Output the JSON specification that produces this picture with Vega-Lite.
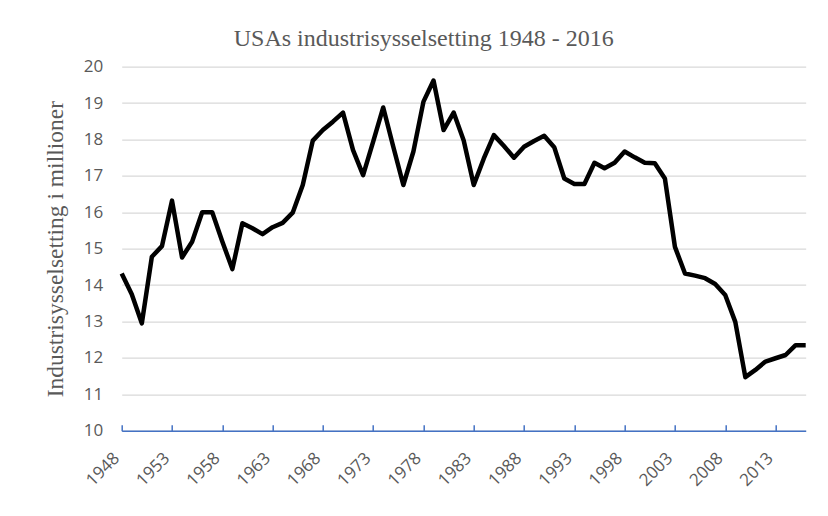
{
  "$schema": "https://vega.github.io/schema/vega-lite/v6.json",
  "autosize": {"type": "none"},
  "width": 684,
  "height": 364,
  "padding": {"left": 121.7, "top": 66.7, "right": 22.3, "bottom": 85.3},
  "background": "white",
  "title": {
    "text": "USAs industrisysselsetting 1948 - 2016",
    "font": "Liberation Serif",
    "fontSize": 24,
    "fontWeight": "normal",
    "color": "#595959",
    "anchor": "middle",
    "frame": "group",
    "dx": -40,
    "offset": 7
  },
  "data": {
    "values": [
      {"year": 1948, "value": 14.32}, {"year": 1949, "value": 13.75}, {"year": 1950, "value": 12.95},
      {"year": 1951, "value": 14.78}, {"year": 1952, "value": 15.07}, {"year": 1953, "value": 16.32},
      {"year": 1954, "value": 14.76}, {"year": 1955, "value": 15.19}, {"year": 1956, "value": 16.0},
      {"year": 1957, "value": 16.0}, {"year": 1958, "value": 15.2}, {"year": 1959, "value": 14.44},
      {"year": 1960, "value": 15.7}, {"year": 1961, "value": 15.56}, {"year": 1962, "value": 15.4},
      {"year": 1963, "value": 15.59}, {"year": 1964, "value": 15.71}, {"year": 1965, "value": 15.99},
      {"year": 1966, "value": 16.75}, {"year": 1967, "value": 17.97}, {"year": 1968, "value": 18.26},
      {"year": 1969, "value": 18.49}, {"year": 1970, "value": 18.74}, {"year": 1971, "value": 17.71},
      {"year": 1972, "value": 17.02}, {"year": 1973, "value": 17.94}, {"year": 1974, "value": 18.88},
      {"year": 1975, "value": 17.8}, {"year": 1976, "value": 16.75}, {"year": 1977, "value": 17.67},
      {"year": 1978, "value": 19.04}, {"year": 1979, "value": 19.62}, {"year": 1980, "value": 18.26},
      {"year": 1981, "value": 18.74}, {"year": 1982, "value": 17.97}, {"year": 1983, "value": 16.75},
      {"year": 1984, "value": 17.48}, {"year": 1985, "value": 18.12}, {"year": 1986, "value": 17.82},
      {"year": 1987, "value": 17.5}, {"year": 1988, "value": 17.8}, {"year": 1989, "value": 17.96},
      {"year": 1990, "value": 18.1}, {"year": 1991, "value": 17.79}, {"year": 1992, "value": 16.93},
      {"year": 1993, "value": 16.78}, {"year": 1994, "value": 16.78}, {"year": 1995, "value": 17.36},
      {"year": 1996, "value": 17.21}, {"year": 1997, "value": 17.36}, {"year": 1998, "value": 17.67},
      {"year": 1999, "value": 17.51}, {"year": 2000, "value": 17.36}, {"year": 2001, "value": 17.35},
      {"year": 2002, "value": 16.93}, {"year": 2003, "value": 15.05}, {"year": 2004, "value": 14.32},
      {"year": 2005, "value": 14.26}, {"year": 2006, "value": 14.19}, {"year": 2007, "value": 14.03},
      {"year": 2008, "value": 13.73}, {"year": 2009, "value": 12.99}, {"year": 2010, "value": 11.47},
      {"year": 2011, "value": 11.67}, {"year": 2012, "value": 11.9}, {"year": 2013, "value": 11.99},
      {"year": 2014, "value": 12.08}, {"year": 2015, "value": 12.35}, {"year": 2016, "value": 12.35}
    ]
  },
  "mark": {"type": "line", "color": "#000000", "strokeWidth": 4.5, "strokeJoin": "round", "clip": false},
  "encoding": {
    "x": {
      "field": "year",
      "type": "quantitative",
      "scale": {"domain": [1948, 2016], "nice": false, "zero": false},
      "axis": {
        "title": null,
        "values": [1948, 1953, 1958, 1963, 1968, 1973, 1978, 1983, 1988, 1993, 1998, 2003, 2008, 2013],
        "format": "d",
        "grid": false,
        "domainColor": "#4472c4",
        "domainWidth": 1.5,
        "tickColor": "#4472c4",
        "tickWidth": 1.5,
        "tickSize": -6,
        "labelAngle": -45,
        "labelFont": "Open Sans",
        "labelFontSize": 17,
        "labelColor": "#595959",
        "labelPadding": 25,
        "labelOffset": -11
      }
    },
    "y": {
      "field": "value",
      "type": "quantitative",
      "scale": {"domain": [10, 20], "nice": false, "zero": false},
      "axis": {
        "title": "Industrisysselsetting i millioner",
        "titleFont": "Liberation Serif",
        "titleFontSize": 23.5,
        "titleFontWeight": "normal",
        "titleColor": "#595959",
        "titlePadding": 16,
        "values": [10, 11, 12, 13, 14, 15, 16, 17, 18, 19, 20],
        "domain": false,
        "ticks": false,
        "grid": true,
        "gridColor": "#d9d9d9",
        "gridWidth": 1.2,
        "labelFont": "Open Sans",
        "labelFontSize": 17,
        "labelColor": "#595959",
        "labelPadding": 19
      }
    }
  },
  "config": {"view": {"stroke": null}}
}
